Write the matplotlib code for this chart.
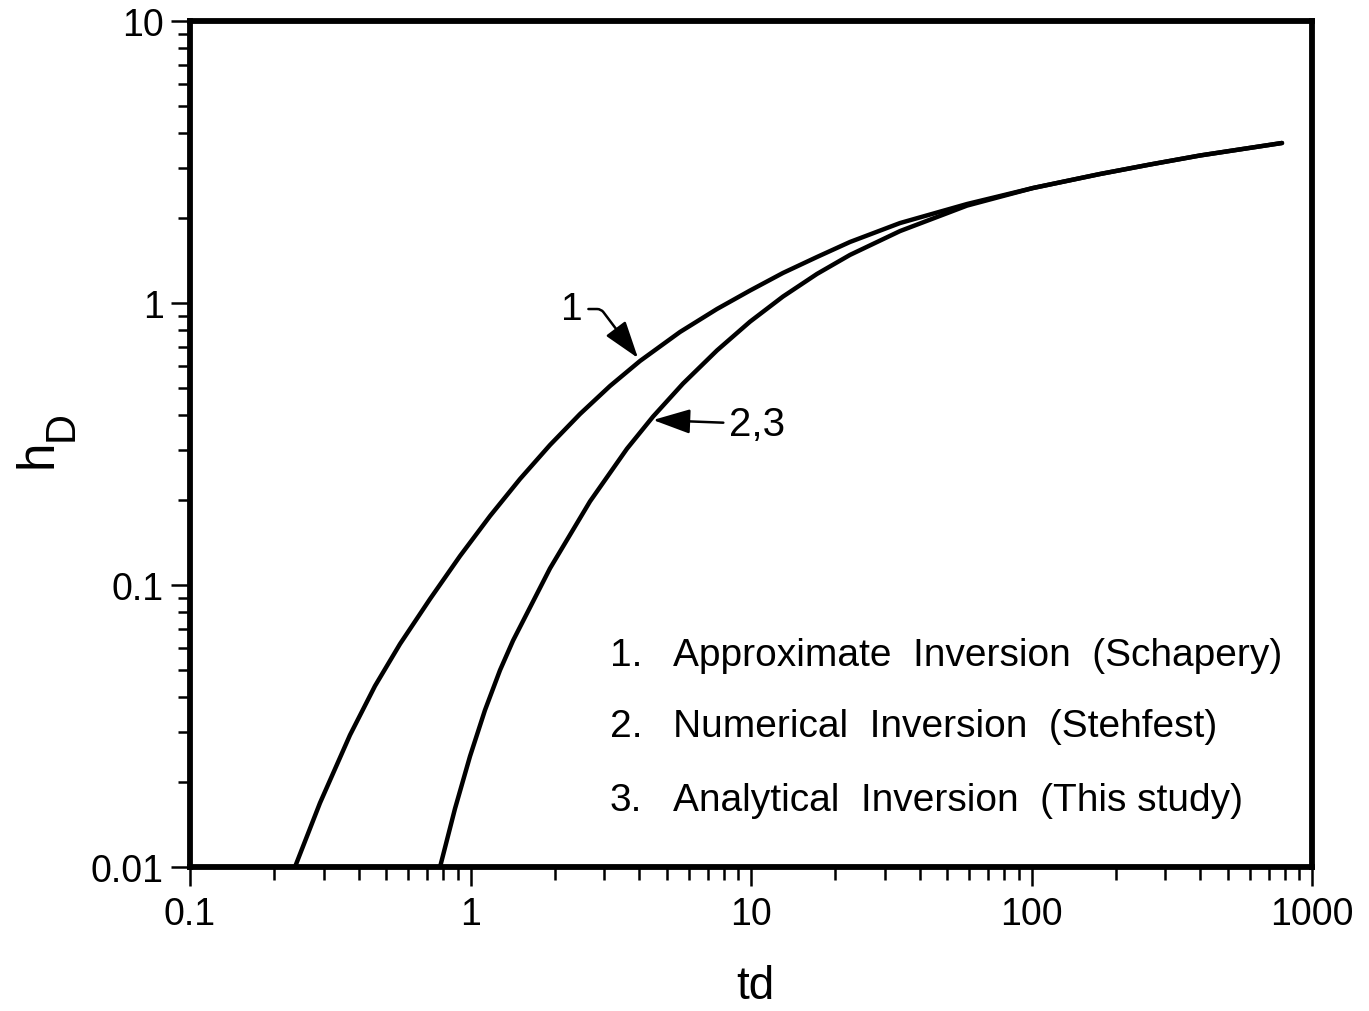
import matplotlib
matplotlib.use('Agg')
import matplotlib.pyplot as plt
from matplotlib.ticker import NullFormatter

plt.rcParams['font.family'] = ['Liberation Sans', 'DejaVu Sans']

# curve 1: approximate inversion (Schapery)
td_1 = [0.2367, 0.2906, 0.3719, 0.4565, 0.5606, 0.7172, 0.9175, 1.174, 1.501, 1.920,
        2.457, 3.143, 4.021, 5.582, 7.564, 9.918, 13.00, 17.19, 22.54, 33.98,
        58.90, 101.2, 175.5, 264.5, 398.8, 781.7]
hd_1 = [0.0100, 0.01686, 0.02938, 0.04384, 0.06178, 0.08920, 0.1267, 0.1757, 0.2376, 0.3136,
        0.4040, 0.5078, 0.6229, 0.7891, 0.9522, 1.107, 1.278, 1.456, 1.646, 1.921,
        2.244, 2.557, 2.867, 3.098, 3.335, 3.693]

# curves 2,3: numerical (Stehfest) and analytical inversion, on top of each other
td_23 = [0.7787, 0.8806, 0.9959, 1.126, 1.274, 1.418, 1.920, 2.667, 3.613, 4.474,
         5.722, 7.564, 9.918, 13.00, 17.19, 22.54, 33.98, 58.90, 101.2, 175.5,
         264.5, 398.8, 781.7]
hd_23 = [0.0100, 0.01611, 0.02469, 0.03598, 0.04987, 0.06352, 0.1145, 0.1979, 0.3043, 0.3955,
         0.5178, 0.6790, 0.8585, 1.054, 1.268, 1.481, 1.799, 2.215, 2.557, 2.867,
         3.098, 3.335, 3.693]

x_ticks = [0.1, 1, 10, 100, 1000]
x_tick_labels = ['0.1', '1', '10', '100', '1000']
y_ticks = [0.01, 0.1, 1, 10]
y_tick_labels = ['0.01', '0.1', '1', '10']

legend_numbers = ['1.', '2.', '3.']
legend_texts = ['Approximate  Inversion  (Schapery)',
                'Numerical  Inversion  (Stehfest)',
                'Analytical  Inversion  (This study)']

fig = plt.figure(figsize=(13.69, 10.12), dpi=100, facecolor='white')
ax = fig.add_axes([0.13879, 0.14229, 0.81958, 0.83597])

ax.plot(td_1, hd_1, color='black', lw=3.2, solid_capstyle='round', solid_joinstyle='round')
ax.plot(td_23, hd_23, color='black', lw=3.2, solid_capstyle='round', solid_joinstyle='round')

ax.set_xscale('log')
ax.set_yscale('log')
ax.set_xlim(0.1, 1000)
ax.set_ylim(0.01, 10)
ax.set_xticks(x_ticks, labels=x_tick_labels)
ax.set_yticks(y_ticks, labels=y_tick_labels)
ax.xaxis.set_minor_formatter(NullFormatter())
ax.yaxis.set_minor_formatter(NullFormatter())

ax.tick_params(which='major', direction='out', length=14, width=1.8,
               labelsize=27, top=False, right=False)
ax.tick_params(axis='x', which='major', pad=7)
ax.tick_params(axis='y', which='major', pad=5)
ax.tick_params(which='minor', direction='out', length=9, width=1.8,
               top=False, right=False)
for sp in ax.spines.values():
    sp.set_linewidth(4.2)

# axis labels
fig.text(0.5515, 0.0125, 'td', fontsize=33, ha='center', va='baseline')
fig.text(0.0278, 0.5514, 'h', fontsize=37, rotation=90, ha='center', va='center')
fig.text(0.0453, 0.5795, 'D', fontsize=30, rotation=90, ha='center', va='center')

# curve labels with arrows
arrow_kw = dict(arrowstyle='-|>,head_length=1.15,head_width=0.38', color='black',
                lw=1.8, mutation_scale=20, shrinkA=2, shrinkB=0)
ax.annotate('1', xy=(3.955, 0.638), xytext=(2.301, 0.952), fontsize=28,
            ha='center', va='center',
            arrowprops=dict(connectionstyle='angle,angleA=0,angleB=127,rad=4', **arrow_kw))
ax.annotate('2,3', xy=(4.474, 0.3847), xytext=(10.50, 0.3724), fontsize=29,
            ha='center', va='center',
            arrowprops=dict(connectionstyle='arc3', **arrow_kw))

# legend block
legend_y = [0.2388, 0.1548, 0.0674]
for num, txt, yy in zip(legend_numbers, legend_texts, legend_y):
    ax.text(0.3743, yy, num, transform=ax.transAxes, fontsize=28, va='baseline')
    ax.text(0.4305, yy, txt, transform=ax.transAxes, fontsize=28, va='baseline')

fig.savefig('out.png', dpi=100, facecolor='white')
